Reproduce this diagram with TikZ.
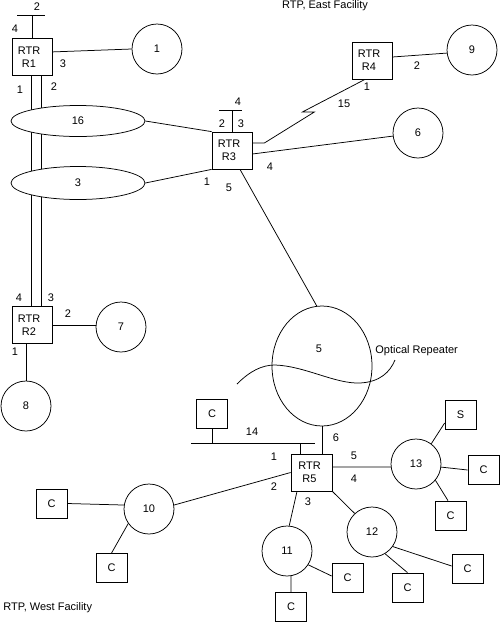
\documentclass[tikz,border=0pt]{standalone}
\usepackage{fontspec}
\setmainfont{Liberation Sans}
\usetikzlibrary{shapes.geometric}
\begin{document}
\begin{tikzpicture}[x=1pt,y=-1pt,line width=0.75pt,
  every node/.style={font=\fontsize{11}{13}\selectfont},
  rtr/.style={draw,rectangle,minimum width=40pt,minimum height=37pt,inner sep=0pt},
  boxtxt/.style={align=center,inner sep=0pt},
  net/.style={draw,circle,minimum size=50pt,inner sep=0pt},
  lan/.style={draw,ellipse,fill=white,minimum width=134pt,inner sep=0pt},
  cbox/.style={draw,rectangle,minimum width=31pt,minimum height=29pt,inner sep=0pt},
  lbl/.style={inner sep=0pt}]
\useasboundingbox (0,0) rectangle (500,622);

% routers
\node[rtr] (R1) at (32,57) {};
\node[boxtxt] (R1t) at ([xshift=-3pt]R1.center) {RTR\\R1};
\node[rtr] (R2) at (32,325) {};
\node[boxtxt] (R2t) at ([xshift=-3pt]R2.center) {RTR\\R2};
\node[rtr] (R3) at (232,150.5) {};
\node[boxtxt] (R3t) at ([xshift=-3pt]R3.center) {RTR\\R3};
\node[rtr] (R4) at (372,60.5) {};
\node[boxtxt] (R4t) at ([xshift=-3pt]R4.center) {RTR\\R4};
\node[rtr,minimum width=41pt] (R5) at (311.5,472.5) {};
\node[boxtxt] (R5t) at ([xshift=-2pt]R5.center) {RTR\\R5};

% networks
\node[net] (c1) at (157,49) {1};
\node[net] (c9) at (472,50) {9};
\node[net] (c6) at (418,133) {6};
\node[net] (c7) at (121,327) {7};
\node[net] (c8) at (26,406) {8};
\node[net] (c13) at (416,464) {13};
\node[net] (c12) at (372,532) {12};
\node[net] (c11) at (287,551) {11};
\node[net] (c10) at (149,509) {10};
\node[draw,ellipse,minimum width=100pt,minimum height=120pt,inner sep=0pt] (c5) at (322,366) {};
\node[lbl] (c5t) at (319,349) {5};

% hosts
\node[cbox] (Ca) at (212,413.5) {C};
\node[cbox] (C10L) at (51.5,503.5) {C};
\node[cbox] (C10B) at (111.5,568) {C};
\node[cbox] (C11R) at (347.5,578) {C};
\node[cbox] (C11B) at (291,607) {C};
\node[cbox] (C12B) at (407.5,587.5) {C};
\node[cbox] (C12R) at (467.5,568.5) {C};
\node[cbox] (C13B) at (450.5,515.5) {C};
\node[cbox] (C13R) at (483.5,470) {C};
\node[cbox] (S) at (460.5,415) {S};

% R1 stub
\coordinate (s1) at (32,15);
\draw (R1.north) -- (s1);
\draw ([xshift=-15pt]s1) -- ([xshift=13pt]s1);

% R1 - R2 links (under the ellipses)
\draw ([xshift=-1pt]R1.south) -- ([xshift=-1pt]R2.north);
\draw ([xshift=9pt]R1.south) -- ([xshift=9pt]R2.north);

\node[lan,minimum height=31pt] (e16) at (78,121) {16};
\node[lan,minimum height=33pt] (e3) at (78,183) {3};

\draw (e16.east) -- (R3.north west);
\draw (e3.east) -- (R3.south west);

% R3 stub
\coordinate (s3) at (232,110);
\draw (R3.north) -- (s3);
\draw ([xshift=-13pt]s3) -- ([xshift=10pt]s3);

\draw ([xshift=8pt]R3.south) -- (c5.95);
\draw ([yshift=7.5pt]R3.east) -- ++(12,0) -- ++(50,-31) -- ++(-12,0) -- ([xshift=-7pt]R4.south);
\draw ([yshift=-3.5pt]R3.east) -- (c6.187);
\draw ([yshift=3.5pt]R4.east) -- (c9.187);
\draw (R1.14) -- (c1.west);
\draw (R2.east) -- (R2.east -| c7.west);
\draw (c8.north |- R2.south) -- (c8.north);
\draw (c5.south) -- (c5.south |- R5.north);

% bus 14
\coordinate (busL) at (191,443);
\coordinate (busR) at (315,443);
\draw (busL) -- (busR);
\draw (Ca.south) -- (Ca.south |- busL);
\coordinate (r5b) at ([xshift=-11.5pt]R5.north);
\draw (r5b) -- (r5b |- busL);

\draw (R5.west) -- (c10.9);
\draw ([yshift=5.5pt]R5.east) -- (c13.187);
\draw (R5.south east) -- (c12.133);
\draw ([xshift=-14.5pt]R5.south) -- (c11.85);
\draw (c13.53) -- ([yshift=-8pt]S.west);
\draw (c13.353) -- (C13R.west);
\draw (c13.320) -- ([xshift=-2.5pt]C13B.north);
\draw (c12.325) -- ([yshift=2.5pt]C12R.west);
\draw (c12.301) -- (C12B.north);
\draw (c11.327) -- ([yshift=2pt]C11R.west);
\draw (c11.279) -- (C11B.north);
\draw (c10.171) -- (C10L.east);
\draw (c10.215) -- (C10B.north);

% optical repeater curve
\draw (237,384) .. controls (250,371) and (262,365) .. (275,365)
  .. controls (305,366) and (335,384) .. (360,383)
  .. controls (380,382) and (390,372) .. (395,360);

% labels
\node[lbl] (la1) at (37,7) {2};
\node[lbl] (la2) at (15,29) {4};
\node[lbl] (la3) at (63,64) {3};
\node[lbl] (la4) at (20,90) {1};
\node[lbl] (la5) at (54,87) {2};
\node[lbl] (lb1) at (238,102) {4};
\node[lbl] (lb2) at (222,124) {2};
\node[lbl] (lb3) at (241,124) {3};
\node[lbl] (lb4) at (207,182) {1};
\node[lbl] (lb5) at (229,188) {5};
\node[lbl] (lb6) at (270,167) {4};
\node[lbl] (lc1) at (367,87) {1};
\node[lbl] (lc2) at (344,104) {15};
\node[lbl] (lc3) at (417,66) {2};
\node[lbl] (ld1) at (19,298) {4};
\node[lbl] (ld2) at (51,298) {3};
\node[lbl] (ld3) at (68,314) {2};
\node[lbl] (ld4) at (15,352) {1};
\node[lbl] (le1) at (336,438) {6};
\node[lbl] (le2) at (252,432) {14};
\node[lbl] (le3) at (274,457) {1};
\node[lbl] (le4) at (274,487) {2};
\node[lbl] (le5) at (308,502) {3};
\node[lbl] (le6) at (354,456) {5};
\node[lbl] (le7) at (354,479) {4};

\node[lbl] (east) at (325,6) {RTP, East Facility};
\node[lbl,anchor=west] (west) at (3,608) {RTP, West Facility};
\node[lbl,anchor=west] (opt) at (375,351) {Optical Repeater};
\end{tikzpicture}
\end{document}
